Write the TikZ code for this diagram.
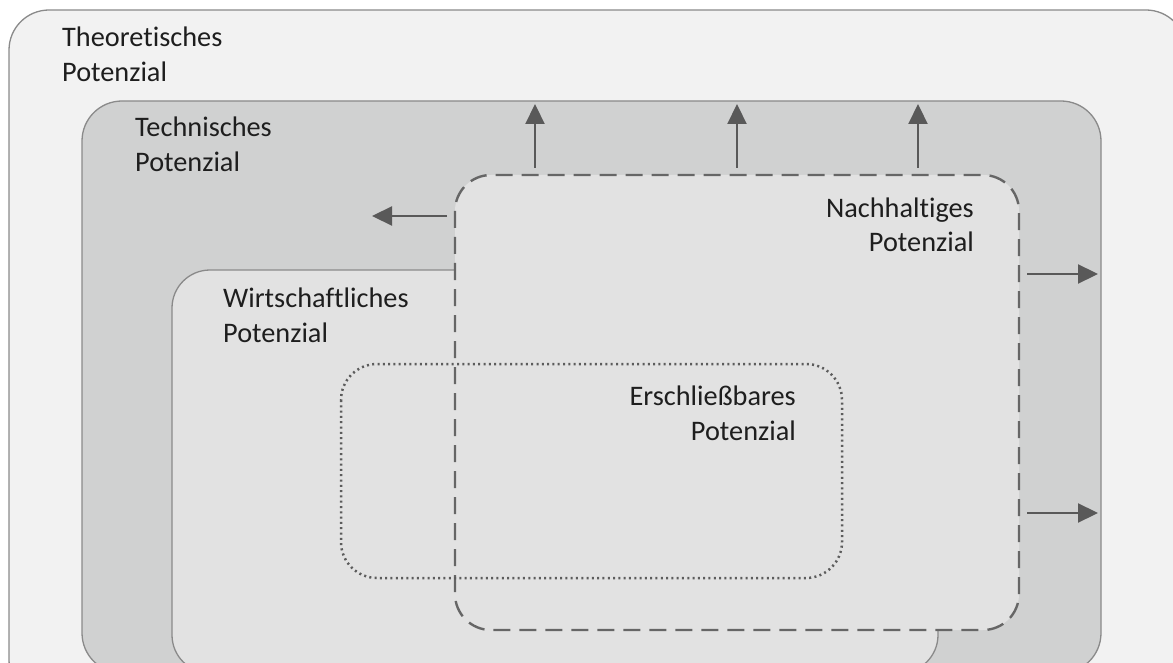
\documentclass[tikz,border=0pt]{standalone}
\usepackage{fontspec}
\setmainfont[Ligatures=NoCommon]{Carlito}
\usetikzlibrary{arrows.meta}

\definecolor{theofill}{HTML}{F2F2F2}
\definecolor{techfill}{HTML}{D0D1D1}
\definecolor{ecofill}{HTML}{E2E2E2}
\definecolor{edge}{HTML}{8A8A8A}
\definecolor{dashedge}{HTML}{666666}
\definecolor{arrowgray}{HTML}{595959}
\definecolor{labelcol}{HTML}{1E1E1E}

\tikzset{
  area/.style={rounded corners=40pt, inner sep=0pt, outer sep=0pt},
  solidedge/.style={draw=edge, line width=1.3pt},
  dashededge/.style={draw=dashedge, line width=2.4pt, dash pattern=on 17pt off 9pt},
  dottededge/.style={draw=dashedge!90!black, line width=2.5pt, dash pattern=on 2pt off 3.3pt},
  growarrow/.style={draw=arrowgray, line width=2.2pt, -{Triangle[length=20pt,width=19pt]}},
  potlabel/.style={font=\fontsize{28.3}{35}\selectfont, text=labelcol, inner sep=0pt},
}

\begin{document}
\begin{tikzpicture}[x=1pt, y=-1pt]
  \useasboundingbox (0,0) rectangle (1173,663);
  \clip (0,0) rectangle (1173,663);

  % theoretical potential
  \draw[area, solidedge, fill=theofill] (9,10) rectangle (1186,700);
  % technical potential
  \draw[area, solidedge, fill=techfill] (82,101) rectangle (1101,673);
  % economic potential
  \draw[area, solidedge, fill=ecofill, rounded corners=38pt] (172,270) rectangle (938,673);
  % sustainable potential (covers the economic outline inside it)
  \fill[ecofill, rounded corners=36pt] (455,175) rectangle (1019,630);
  \draw[dashededge, rounded corners=36pt] (455,175) rectangle (1019,630);
  % developable potential
  \draw[dottededge, rounded corners=36pt] (341,364) rectangle (842,578);

  % expansion arrows
  \coordinate (u1s) at (535,168); \coordinate (u1e) at (535,104);
  \coordinate (u2s) at (737,168); \coordinate (u2e) at (737,104);
  \coordinate (u3s) at (918,168); \coordinate (u3e) at (918,104);
  \coordinate (ls)  at (447,216); \coordinate (le)  at (372,216);
  \coordinate (r1s) at (1027,274); \coordinate (r1e) at (1098,274);
  \coordinate (r2s) at (1027,513); \coordinate (r2e) at (1098,513);
  \draw[growarrow] (u1s) -- (u1e);
  \draw[growarrow] (u2s) -- (u2e);
  \draw[growarrow] (u3s) -- (u3e);
  \draw[growarrow] (ls) -- (le);
  \draw[growarrow] (r1s) -- (r1e);
  \draw[growarrow] (r2s) -- (r2e);

  % labels (anchored at the baseline of their second line)
  \node[potlabel, anchor=base west, align=left] (theo) at (62,82) {Theoretisches\\Potenzial};
  \node[potlabel, anchor=base west, align=left] (tech) at (135,172) {Technisches\\Potenzial};
  \node[potlabel, anchor=base west, align=left] (eco) at (223,342) {Wirtschaftliches\\Potenzial};
  \node[potlabel, anchor=base east, align=right] (nach) at (974,252) {Nachhaltiges\\Potenzial};
  \node[potlabel, anchor=base east, align=right] (ersch) at (796,440) {Erschließbares\\Potenzial};
\end{tikzpicture}
\end{document}
